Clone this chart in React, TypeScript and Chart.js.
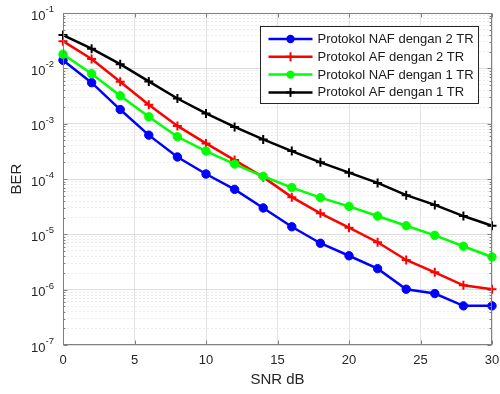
import React, { useEffect, useRef } from 'react';
import { Chart, registerables } from 'chart.js';

Chart.register(...registerables);

const snrDb = [0, 2, 4, 6, 8, 10, 12, 14, 16, 18, 20, 22, 24, 26, 28, 30];
const seriesLabels = [
  'Protokol NAF dengan 2 TR',
  'Protokol AF dengan 2 TR',
  'Protokol NAF dengan 1 TR',
  'Protokol AF dengan 1 TR',
];
const nafTwoTr = [1.4e-2, 5.5e-3, 1.8e-3, 6.2e-4, 2.5e-4, 1.23e-4, 6.5e-5, 3.0e-5, 1.37e-5, 6.9e-6, 4.1e-6, 2.4e-6, 1.02e-6, 8.5e-7, 5.1e-7, 5.1e-7];
const afTwoTr = [3.1e-2, 1.48e-2, 5.7e-3, 2.2e-3, 9.1e-4, 4.4e-4, 2.2e-4, 1.08e-4, 4.7e-5, 2.4e-5, 1.32e-5, 7.2e-6, 3.44e-6, 2.06e-6, 1.2e-6, 1.02e-6];
const nafOneTr = [1.8e-2, 8.0e-3, 3.2e-3, 1.33e-3, 5.8e-4, 3.2e-4, 1.86e-4, 1.12e-4, 7.0e-5, 4.6e-5, 3.2e-5, 2.14e-5, 1.43e-5, 9.6e-6, 6.1e-6, 3.9e-6];
const afOneTr = [4.0e-2, 2.27e-2, 1.19e-2, 5.8e-3, 2.85e-3, 1.53e-3, 8.75e-4, 5.2e-4, 3.2e-4, 2.0e-4, 1.3e-4, 8.5e-5, 5.1e-5, 3.4e-5, 2.14e-5, 1.43e-5];
const xTickValues = [0, 5, 10, 15, 20, 25, 30];
const yExponents = [-7, -6, -5, -4, -3, -2, -1];

const FONT = '"Liberation Sans", Arial, Helvetica, sans-serif';

const isMajor = (v: number) => {
  const l = Math.log10(v);
  return Math.abs(l - Math.round(l)) < 1e-6;
};

const yTickValues: number[] = [];
yExponents.forEach((e) => {
  for (let m = 1; m <= 9; m++) {
    const v = m * Math.pow(10, e);
    if (v <= 0.1 + 1e-12) yTickValues.push(m === 1 ? Math.pow(10, e) : v);
  }
});

const frameLegendPlugin = {
  id: 'frameLegend',
  afterDraw(chart: any) {
    const { ctx, chartArea: a, scales } = chart;
    const xs = scales.x;
    const ys = scales.y;
    ctx.save();
    ctx.strokeStyle = '#808080';
    ctx.lineWidth = 1;
    const line = (x1: number, y1: number, x2: number, y2: number) => {
      ctx.beginPath();
      ctx.moveTo(x1, y1);
      ctx.lineTo(x2, y2);
      ctx.stroke();
    };
    const L = Math.round(a.left) + 0.5;
    const R = Math.round(a.right) - 0.5;
    const T = Math.round(a.top) + 0.5;
    const B = Math.round(a.bottom) - 0.5;
    ctx.strokeRect(L, T, R - L, B - T);
    xTickValues.forEach((v) => {
      const px = Math.round(xs.getPixelForValue(v)) + 0.5;
      line(px, B, px, B - 4);
      line(px, T, px, T + 4);
    });
    yTickValues.forEach((v) => {
      const py = Math.round(ys.getPixelForValue(v)) + 0.5;
      const len = isMajor(v) ? 4 : 2;
      line(L, py, L + len, py);
      line(R, py, R - len, py);
    });

    // y tick labels: 10 with superscript exponent
    ctx.fillStyle = '#262626';
    ctx.textBaseline = 'middle';
    yExponents.forEach((e) => {
      const py = ys.getPixelForValue(Math.pow(10, e));
      const expText = String(e);
      ctx.font = `9.5px ${FONT}`;
      const ew = ctx.measureText(expText).width;
      const expRight = a.left - 9;
      ctx.textAlign = 'left';
      ctx.fillText(expText, expRight - ew, py - 3.5);
      ctx.font = `13px ${FONT}`;
      ctx.textAlign = 'right';
      ctx.fillText('10', expRight - ew, py + 3);
    });

    // legend
    const bw = 218;
    const bh = 77;
    const bx = Math.round(a.right) - 14 - bw + 0.5;
    const by = Math.round(a.top) + 13 + 0.5;
    ctx.fillStyle = '#ffffff';
    ctx.fillRect(bx, by, bw, bh);
    ctx.strokeStyle = '#262626';
    ctx.lineWidth = 1;
    ctx.strokeRect(bx, by, bw, bh);
    ctx.font = `13px ${FONT}`;
    ctx.textBaseline = 'middle';
    ctx.textAlign = 'left';
    chart.data.datasets.forEach((ds: any, i: number) => {
      const cy = by + 12.5 + i * 17.8;
      ctx.strokeStyle = ds.borderColor;
      ctx.lineWidth = 2.5;
      line(bx + 8, cy, bx + 52, cy);
      const mx = bx + 30;
      if (ds.pointStyle === 'circle') {
        ctx.fillStyle = ds.borderColor;
        ctx.beginPath();
        ctx.arc(mx, cy, 4.2, 0, Math.PI * 2);
        ctx.fill();
      } else {
        ctx.lineWidth = 2;
        line(mx - 4.5, cy, mx + 4.5, cy);
        line(mx, cy - 4.5, mx, cy + 4.5);
      }
      ctx.fillStyle = '#1a1a1a';
      ctx.fillText(ds.label, bx + 57, cy + 0.5);
    });
    ctx.restore();
  },
};

export default function App() {
  const ref = useRef<HTMLCanvasElement | null>(null);
  useEffect(() => {
    if (!ref.current) return;
    const mk = (label: string, values: number[], color: string, style: string, order: number) => ({
      label,
      data: snrDb.map((x, i) => ({ x, y: values[i] })),
      borderColor: color,
      backgroundColor: color,
      pointBackgroundColor: color,
      pointBorderColor: color,
      pointStyle: style,
      pointRadius: style === 'circle' ? 4.2 : 4.5,
      pointBorderWidth: style === 'circle' ? 1 : 2,
      borderWidth: 2.5,
      tension: 0,
      clip: false,
      order,
    });
    const chart = new Chart(ref.current, {
      type: 'line',
      data: {
        datasets: [
          mk(seriesLabels[0], nafTwoTr, '#0000ff', 'circle', 4),
          mk(seriesLabels[1], afTwoTr, '#ff0000', 'cross', 3),
          mk(seriesLabels[2], nafOneTr, '#00ff00', 'circle', 2),
          mk(seriesLabels[3], afOneTr, '#000000', 'cross', 1),
        ],
      },
      options: {
        animation: false,
        responsive: false,
        layout: { padding: { left: 8, top: 13, right: 8, bottom: 0 } },
        plugins: { legend: { display: false }, tooltip: { enabled: false } },
        scales: {
          x: {
            type: 'linear',
            min: 0,
            max: 30,
            afterBuildTicks: (scale: any) => {
              scale.ticks = xTickValues.map((v) => ({ value: v }));
            },
            afterFit: (scale: any) => {
              scale.height = 49;
              scale.paddingLeft = 0;
              scale.paddingRight = 0;
            },
            ticks: {
              font: { family: FONT, size: 13 },
              color: '#262626',
              padding: 8,
              maxRotation: 0,
              autoSkip: false,
            },
            grid: { color: '#e3e3e3', lineWidth: 1, drawTicks: false },
            border: { display: false },
            title: {
              display: true,
              text: 'SNR dB',
              font: { family: FONT, size: 15 },
              color: '#262626',
              padding: { top: 0, bottom: 5 },
            },
          },
          y: {
            type: 'logarithmic',
            min: 1e-7,
            max: 1e-1,
            afterBuildTicks: (scale: any) => {
              scale.ticks = yTickValues.map((v) => ({ value: v }));
            },
            afterFit: (scale: any) => {
              scale.width = 55;
              scale.paddingTop = 0;
              scale.paddingBottom = 0;
            },
            ticks: {
              autoSkip: false,
              display: false,
            },
            grid: {
              drawTicks: false,
              lineWidth: 1,
              color: (c: any) => (c.tick && isMajor(c.tick.value) ? '#dedede' : '#ececec'),
            },
            border: {
              display: false,
              dash: (c: any) => (c.tick && !isMajor(c.tick.value) ? [2, 2] : []),
            },
            title: {
              display: true,
              text: 'BER',
              font: { family: FONT, size: 15 },
              color: '#262626',
              padding: { top: 0, bottom: 0 },
            },
          },
        },
      },
      plugins: [frameLegendPlugin],
    } as any);
    return () => chart.destroy();
  }, []);
  return (
    <div style={{ position: 'fixed', left: 0, top: 0, width: 500, height: 394, background: '#fff' }}>
      <canvas ref={ref} width={500} height={394} />
    </div>
  );
}
